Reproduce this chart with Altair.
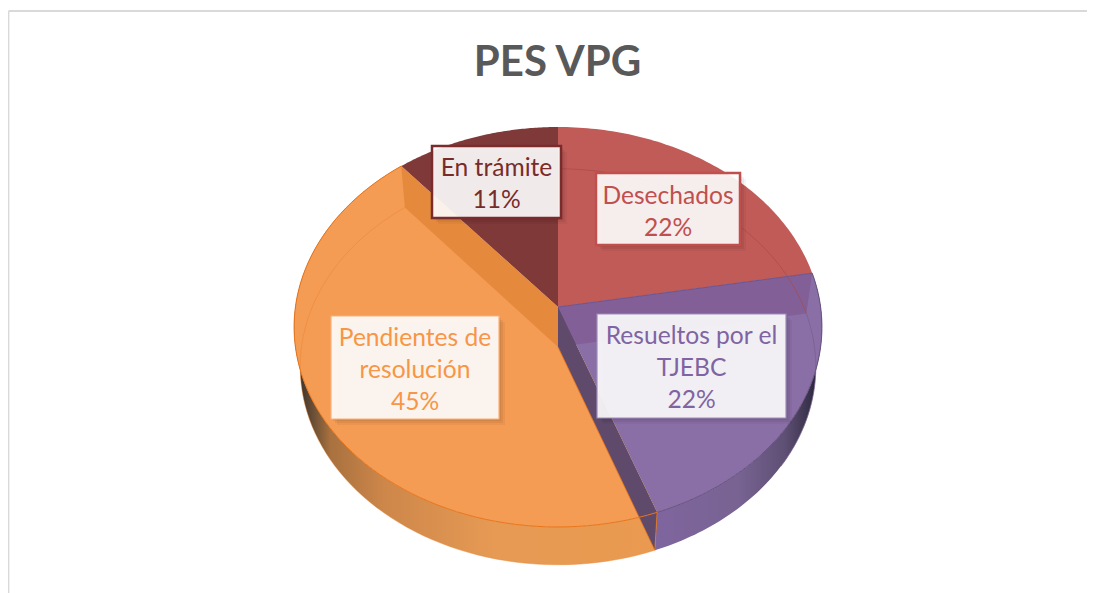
import numpy as np
import pandas as pd
import altair as alt

# --- values ---
categories = ["Desechados", "Resueltos por el\nTJEBC", "Pendientes de\nresolución", "En trámite"]
percent_labels = ["22%", "22%", "45%", "11%"]
slice_weights = [22, 22, 44, 11]   # drawn wedge sizes as measured on the picture
title_text = "PES VPG"

# --- styling ---
TOP_COL = ["#C15B58", "#8A6FA6", "#F49B54", "#7F3939"]
TXT_COL = ["#C0504D", "#8064A2", "#F79646", "#772C2A"]
BOX_EDGE = ["#C0504D", "#9F8ABB", "#F9B27A", "#7A2C2C"]
BOX_W = [2.5, 1.2, 1.2, 2.5]
BOXES = [(596, 740, 173, 245), (597, 786, 314, 418), (331, 499, 316, 419), (432, 561, 146, 218)]
FIRST_LINE_Y = [197, 337, 339, 169]

X_DOM, Y_DOM = [8, 1087], [593, 8]
W, H = 1079, 585
x_enc = alt.X("x:Q", scale=alt.Scale(domain=X_DOM, nice=False, zero=False), axis=None)
y_enc = alt.Y("y:Q", scale=alt.Scale(domain=Y_DOM, nice=False, zero=False), axis=None)


def project(deg, level):
    """Perspective projection of a point on the pie's rim (clockwise from 12 o'clock)."""
    ax, ay, a, b = (558, 307, 262.6, 198) if level == "top" else (558, 347, 256.5, 196)
    t = np.radians(deg)
    w = 1 + 0.1 * np.cos(t)
    return ax + a * np.sin(t) / w, ay - b * np.cos(t) / w


def arc(d0, d1, level):
    ds = np.linspace(d0, d1, 80)
    return [project(d, level) for d in ds]


def apex(level):
    return (558, 307) if level == "top" else (558, 347)


def shape(points, fill=None, stroke=None, width=0.0, opacity=1.0):
    df = pd.DataFrame(points, columns=["x", "y"])
    df["i"] = range(len(df))
    kw = {"strokeWidth": width, "opacity": opacity, "interpolate": "linear", "strokeCap": "butt"}
    kw["stroke"] = stroke if stroke else "transparent"
    if fill is not None:
        kw["fill"] = fill
    return alt.Chart(df).mark_line(**kw).encode(x=x_enc, y=y_enc, order=alt.Order("i:Q"))


def grad(stops):
    return alt.LinearGradient(
        gradient="linear", x1=0, x2=1, y1=0, y2=0,
        stops=[alt.GradientStop(offset=o, color=c) for o, c in stops])


total = sum(slice_weights)
edges = [0.0]
for v in slice_weights:
    edges.append(edges[-1] + 360.0 * v / total)
d_red, d_pur, d_ora = edges[1], edges[2], edges[3]

layers = []

# side walls of the disc
side_orange = grad([(0.0, "#2E2620"), (0.03, "#4E3E30"), (0.1, "#A8713F"),
                    (0.25, "#CE874A"), (0.55, "#E69A54"), (1.0, "#EA9A50")])
side_purple = grad([(0.0, "#7F659E"), (0.5, "#786392"), (0.78, "#5E4F74"),
                    (0.93, "#38314A"), (1.0, "#17151F")])
layers.append(shape(arc(d_red, d_pur, "top") + arc(d_pur, d_red, "low"), fill=side_purple))
layers.append(shape(arc(d_pur, d_ora, "top") + arc(d_ora, d_pur, "low"), fill=side_orange))

# top surface wedges
for k in range(4):
    pts = [apex("top")] + arc(edges[k], edges[k + 1], "top") + [apex("top")]
    layers.append(shape(pts, fill=TOP_COL[k]))

# cut faces seen through the translucent wedges
def wall(deg):
    return [apex("top"), project(deg, "top"), project(deg, "low"), apex("low"), apex("top")]

layers.append(shape(wall(d_red), fill="#825F96"))
layers.append(shape(wall(d_ora), fill="#E58A3D"))
layers.append(shape(wall(d_pur), fill="#5F4A6B"))

# rim lines
layers.append(shape(arc(0, d_red, "low"), stroke="#A94A48", width=1, opacity=0.7))
layers.append(shape(arc(d_red, d_pur - 35, "low"), stroke="#75608F", width=1, opacity=0.8))
layers.append(shape(arc(d_pur, d_ora, "low"), stroke="#E8832E", width=0.8, opacity=0.55))
layers.append(shape(arc(d_red, d_pur, "top"), stroke="#67527F", width=1))
layers.append(shape(arc(d_pur, d_ora, "top"), stroke="#E8751A", width=1))
layers.append(shape([project(d_pur, "top"), project(d_pur, "low")], stroke="#E8751A", width=0.8))
layers.append(shape([apex("low"), project(d_pur, "low")], stroke="#E8751A", width=0.8))
layers.append(shape([apex("top"), project(d_red, "top")], stroke="#6E5590", width=1))

# label boxes
rows = []
for k in range(4):
    x0, x1, y0, y1 = BOXES[k]
    rows.append(dict(x=x0, x2=x1, y=y0, y2=y1, tx=(x0 + x1) / 2, ty=FIRST_LINE_Y[k],
                     text=f"{categories[k]}\n{percent_labels[k]}",
                     col=TXT_COL[k], edge=BOX_EDGE[k], w=BOX_W[k]))
boxes = pd.DataFrame(rows)

for off, op in [(6, 0.04), (4, 0.05), (2, 0.05)]:
    sh = boxes.copy()
    sh[["x", "x2"]] += off
    sh[["y", "y2"]] += off
    layers.append(alt.Chart(sh).mark_rect(color="#000000", opacity=op).encode(
        x=x_enc, x2="x2:Q", y=y_enc, y2="y2:Q"))

layers.append(alt.Chart(boxes).mark_rect(fill="#FFFFFF", fillOpacity=0.9).encode(
    x=x_enc, x2="x2:Q", y=y_enc, y2="y2:Q",
    stroke=alt.Stroke("edge:N", scale=None),
    strokeWidth=alt.StrokeWidth("w:Q", scale=None)))

layers.append(alt.Chart(boxes).mark_text(
    font="Lato", fontSize=24.6, lineBreak="\n", lineHeight=32, align="center", baseline="middle"
).encode(
    x=alt.X("tx:Q", scale=alt.Scale(domain=X_DOM, nice=False, zero=False), axis=None),
    y=alt.Y("ty:Q", scale=alt.Scale(domain=Y_DOM, nice=False, zero=False), axis=None),
    text="text:N",
    color=alt.Color("col:N", scale=None)))

# title
title_df = pd.DataFrame({"x": [557.5], "y": [63], "t": [title_text]})
layers.append(alt.Chart(title_df).mark_text(
    font="Lato", fontSize=42, fontWeight="bold", color="#595959", align="center", baseline="middle"
).encode(x=x_enc, y=y_enc, text="t:N"))

# outer frame of the embedded chart
frame_df = pd.DataFrame({"x": [8.5, 8.5], "y": [11, 11], "x2": [8.5, 1087], "y2": [593, 11]})
layers.append(alt.Chart(frame_df).mark_rule(color="#D9D9D9", strokeWidth=1.8).encode(
    x=x_enc, y=y_enc, x2="x2:Q", y2="y2:Q"))

chart = alt.layer(*layers).properties(
    width=W, height=H, padding=0, background="white",
    autosize=alt.AutoSizeParams(type="none")
).configure_view(stroke=None)

chart.save("out.html", embed_options={"renderer": "svg", "actions": False})
